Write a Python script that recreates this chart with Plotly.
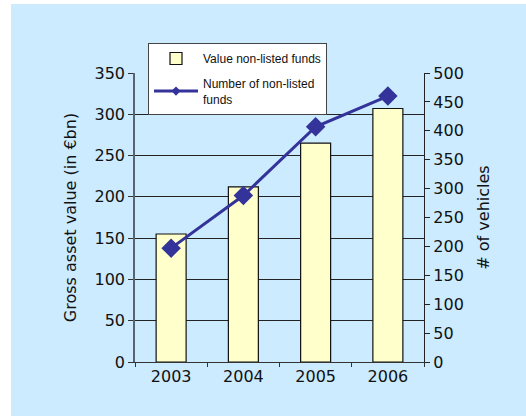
import plotly.graph_objects as go

# Yearly figures for non-listed real-estate funds
years = ["2003", "2004", "2005", "2006"]
gross_value_bn = [155, 212, 265, 307]      # gross asset value, € bn (left axis)
num_vehicles = [197, 288, 407, 460]        # number of vehicles (right axis)

W, H = 526, 416
L, R, T, B = 135, 102, 73, 54
pw, ph = W - L - R, H - T - B

INK = "#111111"
NAVY = "#333399"
tick_font = dict(family="DejaVu Sans", size=16, color=INK)

fig = go.Figure()

fig.add_trace(go.Bar(
    x=years, y=gross_value_bn,
    name="Value non-listed funds",
    marker=dict(color="#FFFFCC", line=dict(color=INK, width=1.2)),
    legendgroup="a",
    yaxis="y",
))

fig.add_trace(go.Scatter(
    x=years, y=num_vehicles,
    name="Number of non-listed<br>funds",
    mode="lines+markers",
    line=dict(color=NAVY, width=3),
    marker=dict(symbol="diamond", size=15, color=NAVY),
    legendgroup="b", showlegend=False,
    yaxis="y2",
))

# legend key for the line series, with a smaller diamond
fig.add_trace(go.Scatter(
    x=[None], y=[None],
    name="Number of non-listed<br>funds",
    mode="lines+markers",
    line=dict(color=NAVY, width=3),
    marker=dict(symbol="diamond", size=7, color=NAVY),
    legendgroup="b",
    yaxis="y2",
))

# light blue panel behind the whole chart
fig.add_shape(
    type="rect", xref="paper", yref="paper", layer="below",
    x0=(11 - L) / pw, x1=(W + 5 - L) / pw,
    y0=(H - B - (H + 5)) / ph, y1=(H - B - 4) / ph,
    fillcolor="#CCEBFF", line=dict(width=0),
)

common_y = dict(range=[0, 350], dtick=50)
common_y2 = dict(range=[0, 500], dtick=50)

fig.update_layout(
    width=W, height=H,
    margin=dict(l=L, r=R, t=T, b=B, pad=0),
    paper_bgcolor="white",
    plot_bgcolor="rgba(0,0,0,0)",
    bargap=0.585,
    showlegend=True,
    legend=dict(
        x=(148 - L) / pw, y=(H - B - 43) / ph,
        xanchor="left", yanchor="top",
        bgcolor="white", bordercolor="#444444", borderwidth=1,
        font=dict(family="Liberation Sans", size=12, color=INK),
        traceorder="grouped", tracegroupgap=6,
        itemwidth=44,
    ),
    xaxis=dict(
        type="category",
        tickfont=tick_font,
        showline=True, linecolor="#333333", linewidth=1,
        ticks="outside", ticklen=4, tickcolor="#333333",
        tickson="boundaries",
        showgrid=False,
    ),
    # inner halves of the crossing tick marks
    xaxis2=dict(
        type="category", overlaying="x", matches="x",
        showticklabels=False, showline=False, showgrid=False,
        ticks="inside", ticklen=4, tickcolor="#333333",
        tickson="boundaries",
    ),
    yaxis=dict(
        **common_y,
        tickfont=tick_font,
        title=dict(text="Gross asset value (in €bn)",
                   font=dict(family="DejaVu Sans", size=16, color=INK),
                   standoff=14),
        showline=True, linecolor="#5A6470", linewidth=1.5,
        ticks="outside", ticklen=5, tickcolor="#333333",
        showgrid=True, gridcolor="#222222", gridwidth=1,
        zeroline=False,
    ),
    yaxis2=dict(
        **common_y2,
        overlaying="y", side="right",
        tickfont=tick_font,
        title=dict(text="# of vehicles",
                   font=dict(family="DejaVu Sans", size=16, color=INK),
                   standoff=14),
        showline=True, linecolor="#222222", linewidth=1.2,
        ticks="outside", ticklen=5, tickcolor="#222222",
        showgrid=False, zeroline=False,
    ),
    yaxis3=dict(
        **common_y, overlaying="y", side="left",
        showticklabels=False, showline=False, showgrid=False, zeroline=False,
        ticks="inside", ticklen=4, tickcolor="#333333",
    ),
    yaxis4=dict(
        **common_y2, overlaying="y", side="right",
        showticklabels=False, showline=False, showgrid=False, zeroline=False,
        ticks="inside", ticklen=4, tickcolor="#222222",
    ),
)

fig.write_html("out.html")
